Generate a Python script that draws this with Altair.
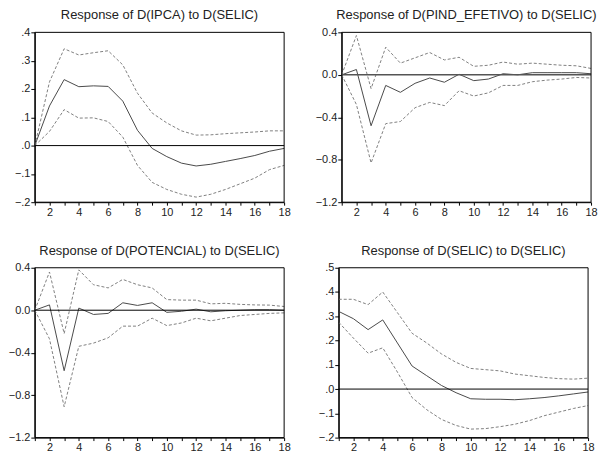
import altair as alt
import pandas as pd

steps = list(range(1, 19))

ipca_resp = [0.0, 0.14, 0.233, 0.208, 0.211, 0.209, 0.157, 0.054, -0.01, -0.039, -0.062, -0.072, -0.066, -0.056, -0.046, -0.035, -0.02, -0.01]
ipca_up = [0.0, 0.225, 0.342, 0.32, 0.328, 0.335, 0.285, 0.185, 0.115, 0.08, 0.052, 0.037, 0.038, 0.042, 0.045, 0.048, 0.052, 0.052]
ipca_lo = [0.0, 0.05, 0.127, 0.097, 0.098, 0.085, 0.03, -0.07, -0.13, -0.155, -0.172, -0.182, -0.172, -0.155, -0.135, -0.115, -0.085, -0.07]

pind_resp = [0.0, 0.05, -0.48, -0.1, -0.165, -0.08, -0.03, -0.07, 0.005, -0.055, -0.04, 0.01, 0.0, 0.02, 0.02, 0.02, 0.02, 0.01]
pind_up = [0.0, 0.37, -0.13, 0.26, 0.11, 0.16, 0.21, 0.14, 0.165, 0.08, 0.09, 0.12, 0.1, 0.11, 0.1, 0.09, 0.085, 0.06]
pind_lo = [0.0, -0.28, -0.83, -0.46, -0.44, -0.31, -0.26, -0.29, -0.15, -0.2, -0.17, -0.1, -0.1, -0.065, -0.05, -0.04, -0.025, -0.03]

pot_resp = [0.0, 0.05, -0.57, 0.02, -0.04, -0.03, 0.07, 0.045, 0.07, -0.02, -0.01, 0.01, -0.015, -0.005, 0.0, 0.005, 0.005, 0.0]
pot_up = [0.0, 0.36, -0.22, 0.38, 0.24, 0.21, 0.29, 0.24, 0.21, 0.1, 0.095, 0.095, 0.06, 0.065, 0.055, 0.05, 0.048, 0.035]
pot_lo = [0.0, -0.27, -0.91, -0.34, -0.31, -0.26, -0.15, -0.15, -0.075, -0.145, -0.12, -0.075, -0.1, -0.075, -0.05, -0.04, -0.03, -0.025]

selic_resp = [0.32, 0.29, 0.245, 0.285, 0.19, 0.095, 0.055, 0.015, -0.015, -0.04, -0.042, -0.042, -0.044, -0.04, -0.035, -0.028, -0.02, -0.012]
selic_up = [0.37, 0.37, 0.348, 0.4, 0.315, 0.23, 0.19, 0.145, 0.11, 0.085, 0.08, 0.075, 0.062, 0.055, 0.048, 0.043, 0.041, 0.045]
selic_lo = [0.275, 0.21, 0.148, 0.17, 0.07, -0.035, -0.085, -0.125, -0.15, -0.165, -0.163, -0.155, -0.145, -0.13, -0.11, -0.095, -0.08, -0.068]

titles = ["Response of D(IPCA) to D(SELIC)", "Response of D(PIND_EFETIVO) to D(SELIC)",
          "Response of D(POTENCIAL) to D(SELIC)", "Response of D(SELIC) to D(SELIC)"]

FONT = "Liberation Sans"
W, H = 251, 171


def panel(title, resp, up, lo, domain, ticks, short, zero_color="black", zero_width=1.0):
    df = pd.DataFrame({"step": steps, "resp": resp, "up": up, "lo": lo})
    if short:
        lab = "replace(format(datum.value, '.1f'), '0.', '.')"
    else:
        lab = "format(datum.value, '.1f')"
    xsc = alt.Scale(domain=[1, 18], nice=False, zero=False)
    xax = alt.Axis(values=steps, labelExpr="datum.value % 2 == 0 ? datum.label : ''",
                   title=None, grid=False, tickSize=3, domainColor="black", tickColor="black",
                   labelColor="#222", labelFont=FONT, labelFontSize=11, labelPadding=1,
                   labelFlush=False, labelOverlap=False)
    yax = alt.Axis(values=ticks, labelExpr=lab, title=None, grid=False, tickSize=4,
                   domainColor="black", tickColor="black", labelColor="#222", labelFont=FONT,
                   labelFontSize=11, labelPadding=1, labelFlush=False, labelOverlap=False,
                   minExtent=24, maxExtent=24)
    ysc = alt.Scale(domain=domain, nice=False, zero=False)

    def X(f):
        return alt.X(f, scale=xsc, axis=xax)

    def Y(f):
        return alt.Y(f, scale=ysc, axis=yax)

    base = alt.Chart(df)
    zero = alt.Chart(pd.DataFrame({"z": [0.0]})).mark_rule(
        color=zero_color, strokeWidth=zero_width).encode(y=Y("z:Q"))
    frame = alt.Chart(pd.DataFrame({"z": [0.0]})).mark_rect(
        fillOpacity=0, stroke="black", strokeWidth=1).encode(
        x=alt.value(0), x2=alt.value(W), y=alt.value(0), y2=alt.value(H))
    solid = base.mark_line(color="#4a4a4a", strokeWidth=1).encode(x=X("step:Q"), y=Y("resp:Q"))
    upper = base.mark_line(color="#808080", strokeWidth=1, strokeDash=[3, 2]).encode(
        x=X("step:Q"), y=Y("up:Q"))
    lower = base.mark_line(color="#808080", strokeWidth=1, strokeDash=[3, 2]).encode(
        x=X("step:Q"), y=Y("lo:Q"))
    return alt.layer(solid, upper, lower, zero, frame).properties(
        width=W, height=H,
        title=alt.Title(title, font=FONT, fontSize=13, fontWeight="normal", color="#222", offset=4))


p1 = panel(titles[0], ipca_resp, ipca_up, ipca_lo, [-0.2, 0.4], [-0.2, -0.1, 0.0, 0.1, 0.2, 0.3, 0.4], True)
p2 = panel(titles[1], pind_resp, pind_up, pind_lo, [-1.2, 0.4], [-1.2, -0.8, -0.4, 0.0, 0.4], False,
           zero_color="#555555", zero_width=1.5)
p3 = panel(titles[2], pot_resp, pot_up, pot_lo, [-1.2, 0.4], [-1.2, -0.8, -0.4, 0.0, 0.4], False)
p4 = panel(titles[3], selic_resp, selic_up, selic_lo, [-0.2, 0.5], [-0.2, -0.1, 0.0, 0.1, 0.2, 0.3, 0.4, 0.5], True)

chart = alt.vconcat(
    alt.hconcat(p1, p2, spacing=24),
    alt.hconcat(p3, p4, spacing=24),
    spacing=28,
).properties(padding={"left": 0, "top": 0, "right": 0, "bottom": 0}).configure_view(
    strokeWidth=0)

chart.save("out.html", embed_options={"renderer": "svg", "actions": False})
